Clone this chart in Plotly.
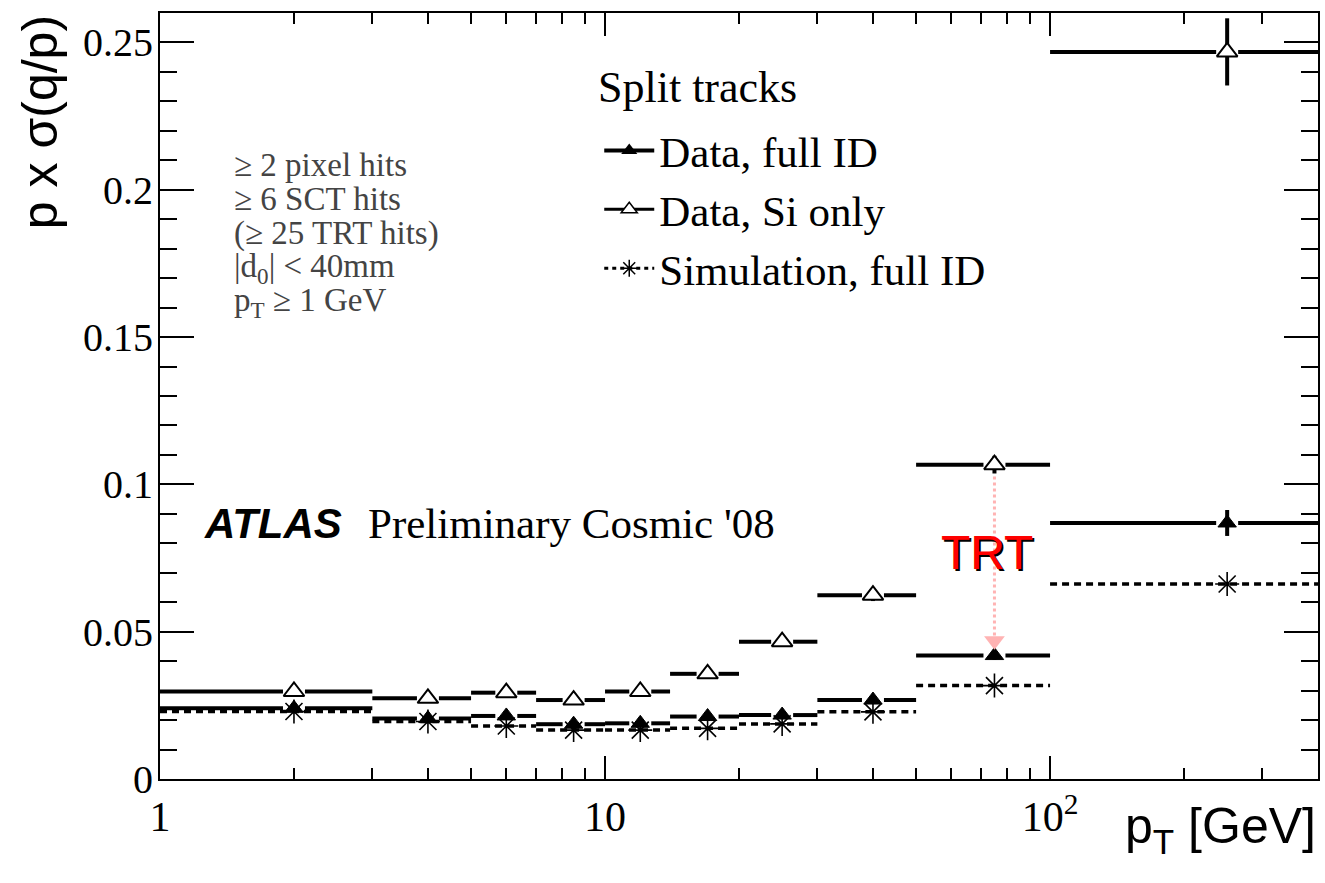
import numpy as np
import plotly.graph_objects as go

# ---------------- data ----------------
bin_lo = [1, 3, 5, 7, 10, 14, 20, 30, 50, 100]
bin_hi = [3, 5, 7, 10, 14, 20, 30, 50, 100, 400]
pt_center = [2, 4, 6, 8.5, 12, 17, 25, 40, 75, 250]

si_only = [0.0297, 0.0274, 0.0293, 0.0268, 0.0297, 0.0357, 0.0466, 0.0624, 0.1067, 0.2468]
si_only_err = [0.0010, 0.0010, 0.0010, 0.0010, 0.0010, 0.0012, 0.0015, 0.0020, 0.0030, 0.0114]
full_id = [0.0240, 0.0205, 0.0214, 0.0186, 0.0189, 0.0212, 0.0217, 0.0268, 0.0419, 0.0869]
full_id_err = [0.0008, 0.0008, 0.0008, 0.0008, 0.0008, 0.0010, 0.0010, 0.0012, 0.0015, 0.0044]
sim_full_id = [0.0229, 0.0195, 0.0180, 0.0166, 0.0166, 0.0172, 0.0187, 0.0228, 0.0317, 0.0662]

ytick_vals = [0, 0.05, 0.1, 0.15, 0.2, 0.25]
ytick_text = ["0", "0.05", "0.1", "0.15", "0.2", "0.25"]
xtick_vals = [1, 10, 100]
xtick_text = ["1", "10", "10<sup>2</sup>"]
xminor_vals = [2, 3, 4, 5, 6, 7, 8, 9, 20, 30, 40, 50, 60, 70, 80, 90, 200, 300, 400]

cuts = ["≥ 2 pixel hits", "≥ 6 SCT hits", "(≥ 25 TRT hits)",
        "|d<sub>0</sub>| < 40mm", "p<sub>T</sub> ≥ 1 GeV"]

# ---------------- styling ----------------
SERIF = "Liberation Serif"
SANS = "Liberation Sans"
GAP = 10 ** (11 / 445.5)   # multiplicative gap around markers on log axis


def seg_with_gap(lo, hi, c, y):
    xs, ys = [], []
    for a, b, m, v in zip(lo, hi, c, y):
        xs += [a, m / GAP, None, m * GAP, b, None]
        ys += [v, v, None, v, v, None]
    return xs, ys


def seg_full(lo, hi, y):
    xs, ys = [], []
    for a, b, v in zip(lo, hi, y):
        xs += [a, b, None]
        ys += [v, v, None]
    return xs, ys


fig = go.Figure()

# simulation (dotted)
sx, sy = seg_full(bin_lo, bin_hi, sim_full_id)
fig.add_trace(go.Scatter(x=sx, y=sy, mode="lines", showlegend=False,
                         line=dict(color="black", width=3.5, dash="7px,5px"),
                         hoverinfo="skip"))
fig.add_trace(go.Scatter(x=pt_center, y=sim_full_id, mode="markers", showlegend=False,
                         marker=dict(symbol="asterisk-open", size=20, color="black",
                                     line=dict(color="black", width=1.6))))

# data full ID
fx, fy = seg_with_gap(bin_lo, bin_hi, pt_center, full_id)
fig.add_trace(go.Scatter(x=fx, y=fy, mode="lines", showlegend=False,
                         line=dict(color="black", width=4), hoverinfo="skip"))
fig.add_trace(go.Scatter(x=pt_center, y=full_id, mode="markers", showlegend=False,
                         error_y=dict(type="data", array=full_id_err, color="black",
                                      thickness=4, width=0),
                         marker=dict(symbol="triangle-up", size=16, color="black",
                                     line=dict(color="black", width=1))))

# data Si only
ix, iy = seg_with_gap(bin_lo, bin_hi, pt_center, si_only)
fig.add_trace(go.Scatter(x=ix, y=iy, mode="lines", showlegend=False,
                         line=dict(color="black", width=4), hoverinfo="skip"))
fig.add_trace(go.Scatter(x=pt_center, y=si_only, mode="markers", showlegend=False,
                         error_y=dict(type="data", array=si_only_err, color="black",
                                      thickness=4, width=0),
                         marker=dict(symbol="triangle-up", size=18, color="white",
                                     line=dict(color="black", width=2))))

# TRT arrow (pink dotted) from Si-only to full-ID in the 50-100 GeV bin
k = 8
fig.add_trace(go.Scatter(x=[pt_center[k], pt_center[k]],
                         y=[si_only[k] - 0.004, full_id[k] + 0.005],
                         mode="lines", showlegend=False, hoverinfo="skip",
                         line=dict(color="#ffb3b3", width=3, dash="3px,3px")))
fig.add_trace(go.Scatter(x=[pt_center[k]], y=[full_id[k] + 0.005], mode="markers",
                         showlegend=False, hoverinfo="skip",
                         marker=dict(symbol="triangle-down", size=18, color="#ffb3b3",
                                     line=dict(width=0))))

# legend-only traces
fig.add_trace(go.Scatter(x=[None], y=[None], mode="lines+markers", name="Data, full ID",
                         line=dict(color="black", width=4),
                         marker=dict(symbol="triangle-up", size=14, color="black")))
fig.add_trace(go.Scatter(x=[None], y=[None], mode="lines+markers", name="Data, Si only",
                         line=dict(color="black", width=3),
                         marker=dict(symbol="triangle-up", size=14, color="white",
                                     line=dict(color="black", width=1.5))))
fig.add_trace(go.Scatter(x=[None], y=[None], mode="lines+markers", name="Simulation, full ID",
                         line=dict(color="black", width=3, dash="4px,4px"),
                         marker=dict(symbol="asterisk-open", size=14, color="black",
                                     line=dict(color="black", width=1.5))))

annotations = []
# TRT label with shadow
for dx, dy, col in [(2, -2, "black"), (0, 0, "red")]:
    annotations.append(dict(x=np.log10(pt_center[k]), y=0.0768, xref="x", yref="y",
                            text="TRT", showarrow=False, xshift=dx - 7, yshift=dy,
                            font=dict(family=SANS, size=48, color=col)))

# ATLAS label
annotations.append(dict(x=0.036, y=0.334, xref="paper", yref="paper", xanchor="left",
                        yanchor="middle", showarrow=False,
                        text="<b><i>ATLAS</i></b>",
                        font=dict(family=SANS, size=42, color="black")))
annotations.append(dict(x=0.178, y=0.334, xref="paper", yref="paper", xanchor="left",
                        yanchor="middle", showarrow=False,
                        text="Preliminary Cosmic '08",
                        font=dict(family=SERIF, size=43, color="black")))

# legend header
annotations.append(dict(x=(597 - 160) / 1160, y=(779 - 88) / 766, xref="paper",
                        yref="paper", xanchor="left", yanchor="middle", showarrow=False,
                        text="Split tracks",
                        font=dict(family=SERIF, size=44, color="black")))

# cut list
cut_y = [165, 199, 233, 268, 302]
for t, py in zip(cuts, cut_y):
    annotations.append(dict(x=(232 - 160) / 1160, y=(779 - py) / 766, xref="paper",
                            yref="paper", xanchor="left", yanchor="middle",
                            showarrow=False, text=t,
                            font=dict(family=SERIF, size=33, color="#444444")))

# axis titles
annotations.append(dict(x=1.0, y=-0.022, xref="paper", yref="paper", xanchor="right",
                        yanchor="top", showarrow=False, text="p<sub>T</sub> [GeV]",
                        font=dict(family=SANS, size=50, color="black")))
annotations.append(dict(x=(40 - 160) / 1160, y=(779 - 122) / 766, xref="paper",
                        yref="paper", xanchor="center", yanchor="middle",
                        showarrow=False, text="p x σ(q/p)", textangle=-90,
                        font=dict(family=SANS, size=50, color="black")))

fig.update_layout(
    width=1325, height=883,
    margin=dict(l=160, r=5, t=13, b=104),
    paper_bgcolor="white", plot_bgcolor="white",
    annotations=annotations,
    showlegend=True,
    legend=dict(x=(600 - 160) / 1160, y=(779 - 116) / 766, xanchor="left", yanchor="top",
                bgcolor="rgba(0,0,0,0)", borderwidth=0,
                font=dict(family=SERIF, size=43, color="black"),
                itemwidth=50, tracegroupgap=0),
    xaxis=dict(type="log", range=[0, np.log10(400)],
               tickvals=xtick_vals, ticktext=xtick_text,
               ticks="inside", ticklen=23, tickwidth=1.5, tickcolor="black",
               minor=dict(tickvals=xminor_vals, ticks="inside", ticklen=11,
                          tickwidth=1.5, tickcolor="black"),
               showline=True, linecolor="black", linewidth=2, mirror="ticks",
               showgrid=False, zeroline=False,
               tickfont=dict(family=SERIF, size=42, color="black"),
               ticklabelstandoff=0),
    yaxis=dict(range=[0, 0.26], tickvals=ytick_vals, ticktext=ytick_text,
               ticks="inside", ticklen=34, tickwidth=1.5, tickcolor="black",
               minor=dict(dtick=0.01, ticks="inside", ticklen=17, tickwidth=1.5,
                          tickcolor="black"),
               showline=True, linecolor="black", linewidth=2, mirror="ticks",
               showgrid=False, zeroline=False,
               tickfont=dict(family=SERIF, size=40, color="black"),
               ticklabelstandoff=-3),
)

fig.write_html("out.html")
